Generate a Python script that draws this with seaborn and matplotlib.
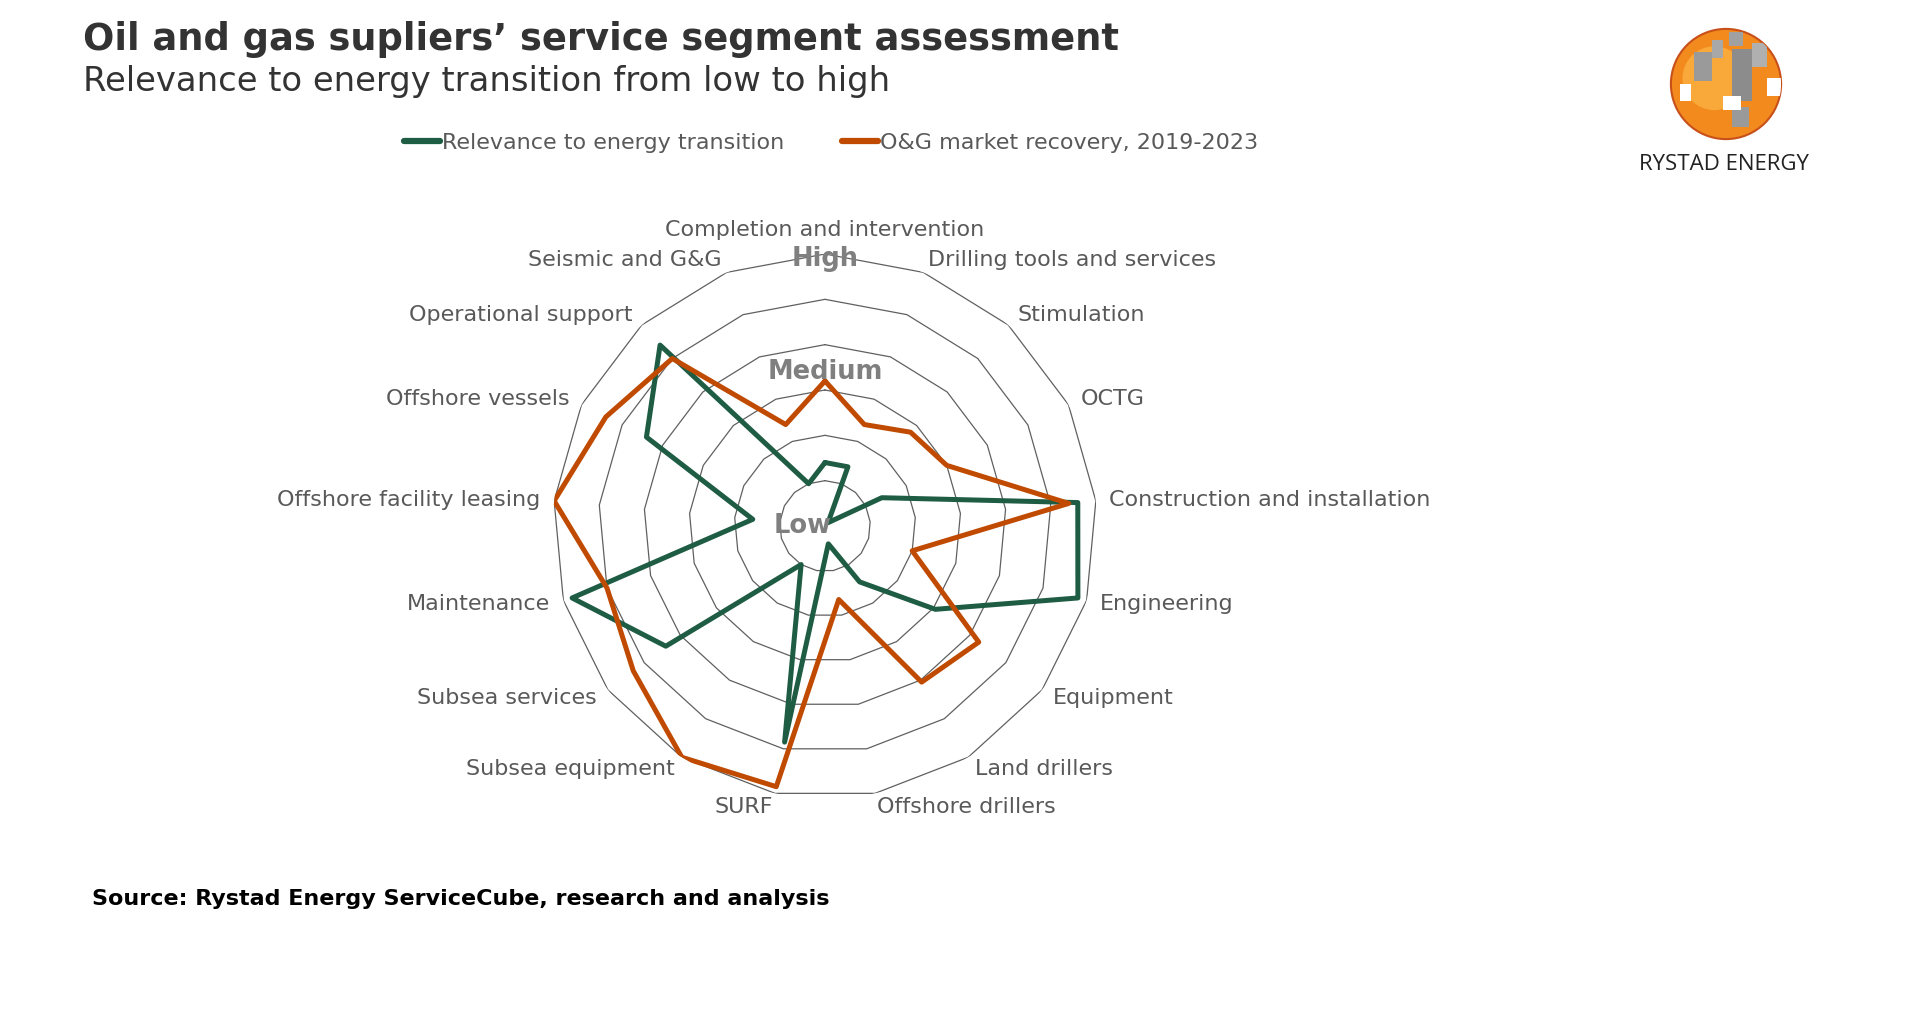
import numpy as np
import pandas as pd
import matplotlib
matplotlib.use("Agg")
import matplotlib.pyplot as plt
import seaborn as sns
from matplotlib.lines import Line2D
from matplotlib.patches import Circle, Rectangle

categories = [
    "Completion and intervention", "Drilling tools and services", "Stimulation", "OCTG",
    "Construction and installation", "Engineering", "Equipment", "Land drillers",
    "Offshore drillers", "SURF", "Subsea equipment", "Subsea services", "Maintenance",
    "Offshore facility leasing", "Offshore vessels", "Operational support", "Seismic and G&G",
]
relevance = [1.4, 1.4, 0.1, 1.4, 5.6, 5.8, 3.05, 1.45, 0.4, 4.85, 1.0, 4.4, 5.8, 1.6, 4.4, 5.4, 1.0]
recovery = [3.2, 2.4, 2.8, 3.0, 5.4, 2.0, 4.25, 4.05, 1.65, 5.85, 6.0, 5.3, 5.0, 6.0, 5.4, 5.0, 2.4]
series_names = ["Relevance to energy transition", "O&G market recovery, 2019-2023"]
level_labels = ["Low", "Medium", "High"]
level_values = [0.5, 3.4, 5.9]

GREEN = "#1E5C44"
ORANGE = "#C04A00"
GRAY_TXT = "#595959"

sns.set_theme(style="white")
plt.rcParams["font.family"] = ["DejaVu Sans"]

n = len(categories)
theta = np.arange(n) * 2 * np.pi / n
theta_closed = np.append(theta, 2 * np.pi)

rows = []
for name, vals in zip(series_names, [relevance, recovery]):
    vc = list(vals) + [vals[0]]
    for t, v in zip(theta_closed, vc):
        rows.append({"theta": t, "value": v, "series": name})
df = pd.DataFrame(rows)

fig = plt.figure(figsize=(19.2, 10.13), dpi=100)
cx, cy, R = 825, 526, 272
W, H = 1920, 1013
ax = fig.add_axes([(cx - R) / W, 1 - (cy + R) / H, 2 * R / W, 2 * R / H], projection="polar")
ax.set_theta_zero_location("N")
ax.set_theta_direction(-1)
ax.set_ylim(0, 6)
ax.grid(False)
ax.set_xticks([])
ax.set_yticks([])
ax.spines["polar"].set_visible(False)
ax.set_facecolor("none")

# polygon rings
for k in range(1, 7):
    ax.plot(theta_closed, [k] * (n + 1), color="#606060", lw=0.9, zorder=1)

sns.lineplot(data=df, x="theta", y="value", hue="series", palette=[GREEN, ORANGE],
             ax=ax, lw=3.6, sort=False, legend=False, zorder=3)
ax.set_xlabel("")
ax.set_ylabel("")

# category labels
for t, lab in zip(theta, categories):
    deg = np.degrees(t)
    if abs(deg) < 1:
        ha, va = "center", "bottom"
    elif deg < 180:
        ha, va = "left", "center"
    else:
        ha, va = "right", "center"
    ax.text(t, 6.3, lab, ha=ha, va=va, fontsize=16, color=GRAY_TXT, clip_on=False)

# level labels
ax.text(3 * np.pi / 2, level_values[0], level_labels[0], ha="center", va="center",
        fontsize=18.5, fontweight="bold", color="#7F7F7F", zorder=4)
ax.text(0, level_values[1], level_labels[1], ha="center", va="center",
        fontsize=18.5, fontweight="bold", color="#7F7F7F", zorder=4)
ax.text(0, level_values[2], level_labels[2], ha="center", va="center",
        fontsize=18.5, fontweight="bold", color="#7F7F7F", zorder=4)

# legend
handles = [Line2D([0], [0], color=GREEN, lw=4.5), Line2D([0], [0], color=ORANGE, lw=4.5)]
fig.legend(handles, series_names, loc="center", bbox_to_anchor=(831 / W, 1 - 143 / H),
           ncol=2, frameon=False, fontsize=16, handlelength=1.6, handletextpad=0.1,
           columnspacing=2.6, labelcolor=GRAY_TXT)

# titles
fig.text(83 / W, 1 - 39 / H, "Oil and gas supliers\u2019 service segment assessment",
         fontsize=26.5, fontweight="bold", color="#333333", ha="left", va="center")
fig.text(83 / W, 1 - 81 / H, "Relevance to energy transition from low to high",
         fontsize=24.4, color="#333333", ha="left", va="center")
fig.text(92 / W, 1 - 899 / H, "Source: Rystad Energy ServiceCube, research and analysis",
         fontsize=16, fontweight="bold", color="black", ha="left", va="center")

# logo
lcx, lcy = 1726, 84
lax = fig.add_axes([(lcx - 58) / W, 1 - (lcy + 58) / H, 116 / W, 116 / H])
lax.set_xlim(-1, 1)
lax.set_ylim(-1, 1)
lax.set_aspect("equal")
lax.axis("off")
circ = Circle((0, 0), 0.95, facecolor="#F28A1E", edgecolor="#C8501A", lw=1.5)
lax.add_patch(circ)
inner = Circle((-0.2, 0.1), 0.55, facecolor="#F9A93A", edgecolor="none")
lax.add_patch(inner)
inner.set_clip_path(circ)
for (x0, y0, w, h, c) in [(-0.55, 0.05, 0.3, 0.5, "#9A9A9A"), (-0.25, 0.45, 0.2, 0.3, "#A8A8A8"),
                          (0.1, -0.3, 0.35, 0.9, "#8C8C8C"), (0.45, 0.3, 0.25, 0.4, "#B0B0B0"),
                          (0.1, -0.75, 0.3, 0.35, "#9A9A9A"), (-0.8, -0.3, 0.2, 0.3, "white"),
                          (-0.05, -0.45, 0.3, 0.25, "white"), (0.7, -0.2, 0.25, 0.3, "white"),
                          (0.05, 0.65, 0.25, 0.25, "#A0A0A0")]:
    r = Rectangle((x0, y0), w, h, facecolor=c, edgecolor="none")
    lax.add_patch(r)
    r.set_clip_path(circ)
fig.text(1724 / W, 1 - 165 / H, "RYSTAD ENERGY", fontsize=16, color="#222222",
         ha="center", va="center", family=["Open Sans", "DejaVu Sans"])

fig.savefig("out.png", dpi=100, facecolor="white")
